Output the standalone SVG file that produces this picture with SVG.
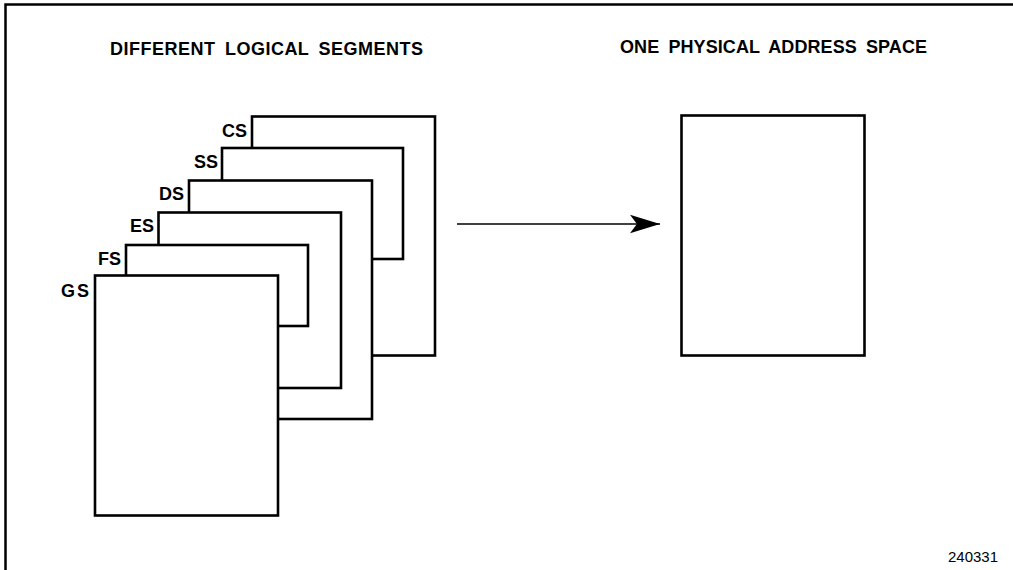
<svg xmlns="http://www.w3.org/2000/svg" width="1013" height="570" viewBox="0 0 1013 570">
<defs>
<style>
.seg{fill:#fff;stroke:#000;stroke-width:2.6}
.lbl{font-family:"Liberation Sans",Arial,sans-serif;font-weight:bold;font-size:18px;fill:#000;text-anchor:end}
.title{font-family:"Liberation Sans",Arial,sans-serif;font-weight:bold;font-size:18px;fill:#000;word-spacing:4px}
.note{font-family:"Liberation Sans",Arial,sans-serif;font-size:15px;fill:#000}
</style>
<marker id="arr" markerUnits="userSpaceOnUse" markerWidth="30" markerHeight="20" viewBox="0 0 26 16" refX="26" refY="8" orient="auto">
<path d="M0,0 L26,8 L0,16 L6,8 Z" fill="#000"/>
</marker>
</defs>
<rect width="1013" height="570" fill="#fff"/>
<path d="M5.5,570 V4.5 H1013" fill="none" stroke="#000" stroke-width="2.5"/>
<text class="title" x="110" y="55" textLength="313" lengthAdjust="spacing">DIFFERENT LOGICAL SEGMENTS</text>
<text class="title" x="620" y="53" textLength="307" lengthAdjust="spacing">ONE PHYSICAL ADDRESS SPACE</text>
<g id="cs"><rect class="seg" x="252" y="116.5" width="183" height="239"/><text class="lbl" x="247" y="137">CS</text></g>
<g id="ss"><rect class="seg" x="222" y="148" width="181" height="111"/><text class="lbl" x="218" y="168">SS</text></g>
<g id="ds"><rect class="seg" x="189" y="180.5" width="183" height="238.5"/><text class="lbl" x="184" y="200">DS</text></g>
<g id="es"><rect class="seg" x="158.5" y="212.5" width="182.5" height="175.5"/><text class="lbl" x="154" y="232">ES</text></g>
<g id="fs"><rect class="seg" x="126" y="245" width="182" height="81"/><text class="lbl" x="121" y="265">FS</text></g>
<g id="gs"><rect class="seg" x="95" y="275.5" width="183" height="240"/><text class="lbl" x="91" y="297" letter-spacing="2">GS</text></g>
<g id="physical"><rect class="seg" x="681.5" y="115.5" width="183" height="240"/></g>
<g id="connectors"><line x1="457" y1="224" x2="660" y2="224" stroke="#000" stroke-width="1.3" marker-end="url(#arr)"/></g>
<text class="note" x="948" y="562" textLength="50">240331</text>
</svg>
